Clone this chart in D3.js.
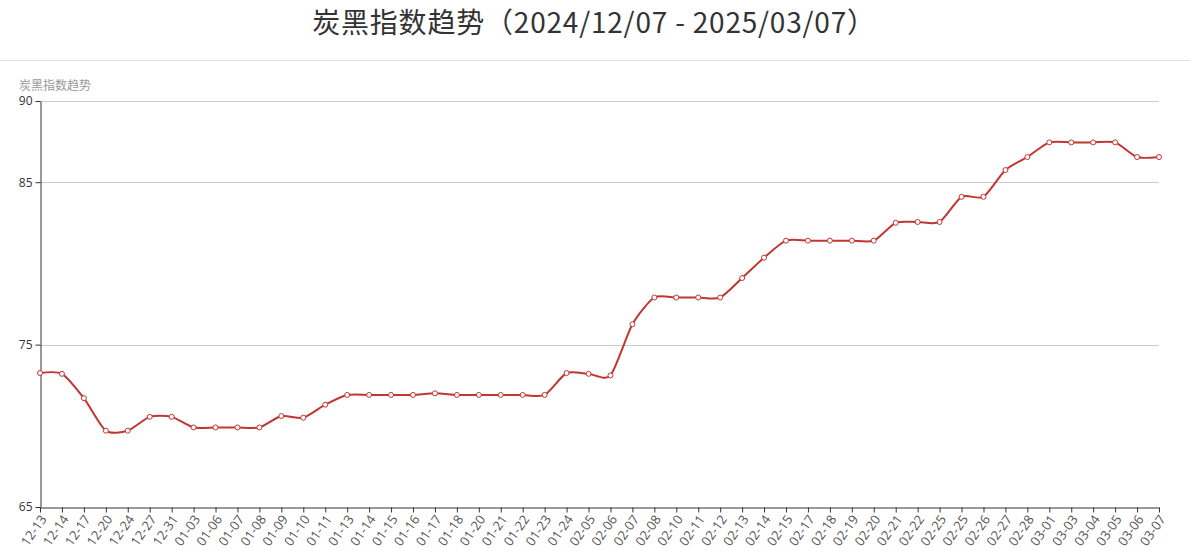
<!DOCTYPE html>
<html><head><meta charset="utf-8">
<script src="https://cdn.jsdelivr.net/npm/d3@7/dist/d3.min.js"></script>
<style>
html,body{margin:0;padding:0;background:#fff;}
svg{display:block;font-family:"Noto Sans CJK SC","Noto Sans",sans-serif;}
</style></head>
<body><svg id="chart" width="1190" height="551"></svg>
<script>
const titleText = "炭黑指数趋势（2024/12/07 - 2025/03/07）";
const yAxisName = "炭黑指数趋势";
const categories = ["12-13","12-14","12-17","12-20","12-24","12-27","12-31",
 "01-03","01-06","01-07","01-08","01-09","01-10","01-11","01-13","01-14","01-15","01-16","01-17","01-18","01-20","01-21","01-22","01-23","01-24",
 "02-05","02-06","02-07","02-08","02-10","02-11","02-12","02-13","02-14","02-15","02-17","02-18","02-19","02-20","02-21","02-22","02-25","02-25","02-26","02-27","02-28",
 "03-01","03-03","03-04","03-05","03-06","03-07"];
const values = [73.25,73.2,71.7,69.7,69.7,70.55,70.55,
 69.9,69.9,69.9,69.9,70.6,70.5,71.3,71.9,71.9,71.9,71.9,72.0,71.9,71.9,71.9,71.9,71.9,73.25,
 73.2,73.1,76.25,77.9,77.9,77.9,77.9,79.1,80.35,81.4,81.4,81.4,81.4,81.4,82.5,82.55,82.55,84.1,84.1,85.75,86.55,
 87.45,87.45,87.45,87.45,86.55,86.55];
const yTicks = [65,75,85,90];

const svg = d3.select("#chart");
const W = 1190, H = 551;
const m = {left:40, right:31, top:101, bottom:44};

svg.append("text").attr("x", W/2 - 1).attr("y", 33).attr("text-anchor","middle")
  .attr("font-size", 28).attr("letter-spacing", "0.8px").attr("fill","#333").text(titleText);
svg.append("line").attr("x1",0).attr("x2",W).attr("y1",60.5).attr("y2",60.5)
  .attr("stroke","#e0e0e0").attr("stroke-width",1);

const idx = categories.map((d,i)=>i);
const x = d3.scalePoint().domain(idx).range([m.left, W - m.right]);
const y = d3.scaleLinear().domain([65,90]).range([H - m.bottom, m.top]);

// grid
svg.append("g").selectAll("line").data(yTicks.filter(t=>t!==65)).join("line")
  .attr("x1", m.left).attr("x2", W - m.right)
  .attr("y1", d=>Math.round(y(d))+0.5).attr("y2", d=>Math.round(y(d))+0.5)
  .attr("stroke","#ccc").attr("stroke-width",1);

svg.append("text").attr("x", 19).attr("y", 90).attr("font-size", 12)
  .attr("fill","#999").text(yAxisName);

// y axis
const yAxis = svg.append("g").attr("transform", `translate(${m.left+0.5},0)`)
  .call(d3.axisLeft(y).tickValues(yTicks).tickSize(5).tickSizeOuter(0).tickPadding(3));
yAxis.select(".domain").attr("stroke","#333");
yAxis.selectAll(".tick line").attr("stroke","#333");
yAxis.selectAll(".tick text").attr("font-size",12).attr("fill","#333").attr("font-family","'Open Sans',sans-serif");

// x axis
const xAxis = svg.append("g").attr("transform", `translate(0,${H - m.bottom + 0.5})`)
  .call(d3.axisBottom(x).tickFormat(i=>categories[i]).tickSize(5).tickSizeOuter(0));
xAxis.select(".domain").attr("stroke","#333");
xAxis.selectAll(".tick line").attr("stroke","#333");
xAxis.selectAll(".tick text").attr("font-size",13).attr("fill","#555")
  .attr("font-family","'Open Sans',sans-serif")
  .attr("text-anchor","end").attr("dy","0.35em")
  .attr("transform","translate(3,9) rotate(-55)").attr("y",0).attr("x",0);

// line
const line = d3.line().x((d,i)=>x(i)).y(d=>y(d)).curve(d3.curveCardinal.tension(0.3));
svg.append("path").datum(values).attr("d", line).attr("fill","none")
  .attr("stroke","#c23531").attr("stroke-width",2);

svg.append("g").selectAll("circle").data(values).join("circle")
  .attr("cx",(d,i)=>x(i)).attr("cy",d=>y(d)).attr("r",2.5)
  .attr("fill","#fff").attr("stroke","#c23531").attr("stroke-width",1);
</script></body></html>
